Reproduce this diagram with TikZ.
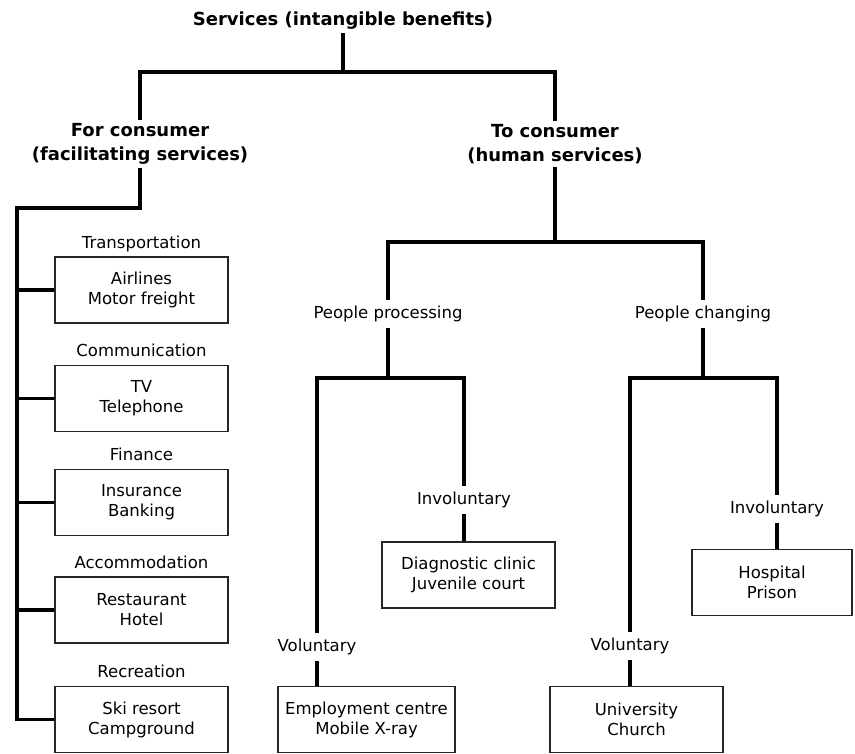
\documentclass[tikz,border=0pt]{standalone}
\usepackage{fontspec}
\setmainfont{DejaVu Sans}
\usepackage{tikz}
\usetikzlibrary{positioning}
\tikzstyle{head}  = [align=center, inner sep=3.5pt,
                     font=\fontsize{18}{24}\selectfont\bfseries]
\tikzstyle{item}  = [rectangle, draw=black!85, line width=1.7pt, align=center,
                     minimum width=173pt, minimum height=66pt, inner sep=2pt,
                     font=\fontsize{16.5}{20}\selectfont]
\tikzstyle{cat}   = [inner sep=2pt, text height=12pt, text depth=3.5pt,
                     font=\fontsize{16.5}{20}\selectfont]
\tikzstyle{tag}   = [inner xsep=2pt, inner ysep=6pt, text height=12pt,
                     text depth=3.5pt, font=\fontsize{16.5}{20}\selectfont]
\tikzstyle{link}  = [line width=3.2pt, black]

\begin{document}
\begin{tikzpicture}[x=1pt, y={(0pt,-1pt)}, node distance=2pt]

    \useasboundingbox [fill=white] (0,0) rectangle (855,754);

    % ── Top levels ──────────────────────────────────────────────────────────
    \node (title) [head, text height=13pt, text depth=4.5pt] at (343,21)
        {Services (intangible benefits)};
    \node (for)   [head] at (140,144) {For consumer\\(facilitating services)};
    \node (to)    [head] at (555,144) {To consumer\\(human services)};

    % ── Facilitating services ───────────────────────────────────────────────
    \node (trans) [item] at (141.5,290)   {Airlines\\Motor freight};
    \node (comm)  [item] at (141.5,398.5) {TV\\Telephone};
    \node (fin)   [item] at (141.5,502.5) {Insurance\\Banking};
    \node (acc)   [item] at (141.5,610)   {Restaurant\\Hotel};
    \node (rec)   [item] at (141.5,719.5) {Ski resort\\Campground};

    \node [cat, above=of trans] {Transportation};
    \node [cat, above=of comm]  {Communication};
    \node [cat, above=of fin]   {Finance};
    \node [cat, above=of acc]   {Accommodation};
    \node [cat, above=of rec]   {Recreation};

    % ── Human services ──────────────────────────────────────────────────────
    \node (pp)    [tag] at (388,314) {People processing};
    \node (pc)    [tag] at (703,314) {People changing};

    \node (ppvol) [tag] at (317,647) {Voluntary};
    \node (ppinv) [tag] at (464,500) {Involuntary};
    \node (pcvol) [tag] at (630,646) {Voluntary};
    \node (pcinv) [tag] at (777,509) {Involuntary};

    \node (emp)   [item, minimum width=177pt] at (366.5,719.5)
        {Employment centre\\Mobile X-ray};
    \node (dc)    [item] at (468.5,575)   {Diagnostic clinic\\Juvenile court};
    \node (uc)    [item] at (636.5,719.5) {University\\Church};
    \node (hp)    [item, minimum width=160pt] at (772,582.5) {Hospital\\Prison};

    % ── Junctions ───────────────────────────────────────────────────────────
    \coordinate (j0)    at (343,72);
    \coordinate (j1)    at (555,242);
    \coordinate (j2)    at (388,378);
    \coordinate (j3)    at (703,378);
    \coordinate (spine) at (17,208);

    % ── Tree lines ──────────────────────────────────────────────────────────
    \draw [link] (title.south) -- (j0);
    \draw [link] (for.north) |- (j0) -| (to.north);

    \draw [link] (for.south) |- (spine) |- (rec.west);
    \foreach \b in {trans, comm, fin, acc}
        \draw [link] (\b.west -| spine) -- (\b.west);

    \draw [link] (to.south) -- (j1);
    \draw [link] (pp.north) |- (j1) -| (pc.north);

    \draw [link] (pp.south) -- (j2);
    \draw [link] (ppvol.north) |- (j2) -| (ppinv.north);
    \draw [link] (ppvol.south) -- (ppvol.south |- emp.north);
    \draw [link] (ppinv.south) -- (ppinv.south |- dc.north);

    \draw [link] (pc.south) -- (j3);
    \draw [link] (pcvol.north) |- (j3) -| (pcinv.north);
    \draw [link] (pcvol.south) -- (pcvol.south |- uc.north);
    \draw [link] (pcinv.south) -- (pcinv.south |- hp.north);

\end{tikzpicture}
\end{document}
